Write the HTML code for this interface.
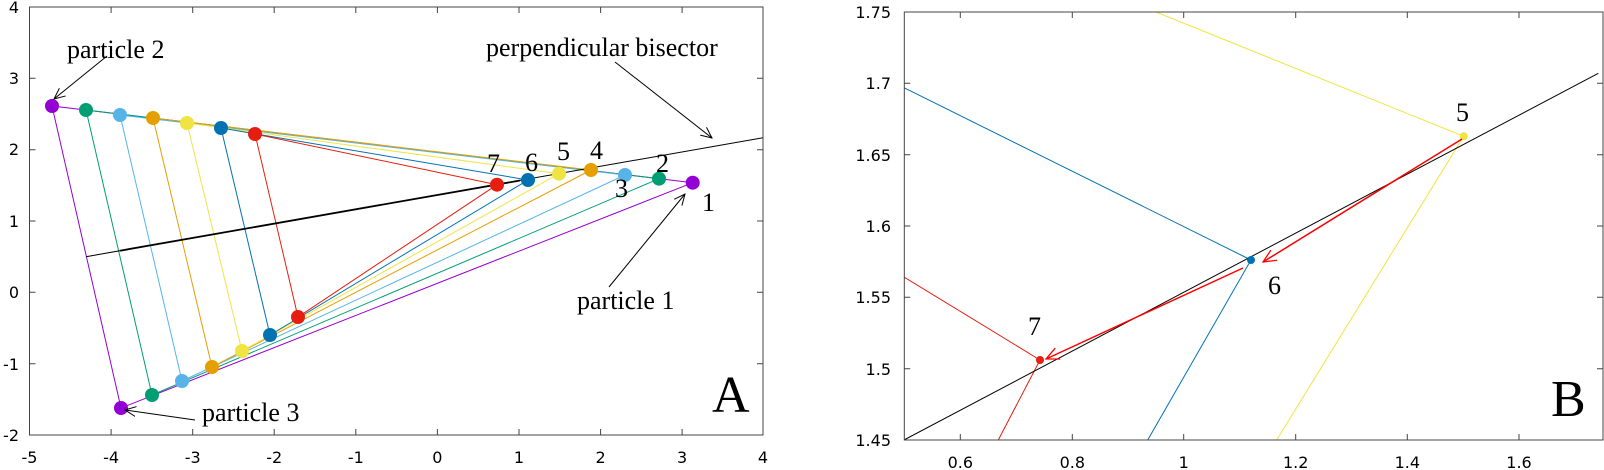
<!DOCTYPE html>
<html><head><meta charset="utf-8"><style>
html,body{margin:0;padding:0;background:#fff;}
svg{display:block;}
.t{font-family:"DejaVu Sans",sans-serif;font-size:16px;fill:#000;}
.s{font-family:"Liberation Serif",serif;fill:#000;}
</style></head><body>
<svg width="1604" height="470" viewBox="0 0 1604 470" xmlns="http://www.w3.org/2000/svg">
<defs>
<marker id="ah" viewBox="0 0 12 12" refX="11" refY="6" markerWidth="12" markerHeight="12" markerUnits="userSpaceOnUse" orient="auto"><path d="M0,1 L11,6 L0,11" fill="none" stroke="#000" stroke-width="1"/></marker>
<marker id="ar" viewBox="0 0 14 14" refX="13" refY="7" markerWidth="14" markerHeight="14" markerUnits="userSpaceOnUse" orient="auto"><path d="M0,1 L13,7 L0,13" fill="none" stroke="#f00" stroke-width="1.3"/></marker>
</defs>
<!-- Panel A -->
<g fill="none" stroke-width="1">
<polygon points="52,106 121,408 692.7,182.7" stroke="#9400d3"/>
<polygon points="86,110 152,395 659,178.7" stroke="#009e73"/>
<polygon points="120,115 182,381 625,175" stroke="#56b4e9"/>
<polygon points="153,118 212,367 591,170" stroke="#e69f00"/>
<polygon points="187,123 242,351 559,173.7" stroke="#f0e442"/>
<polygon points="221,128 270,335 528,180" stroke="#0072b2"/>
<polygon points="255,134 298,317 497,184.7" stroke="#e51e10"/>
</g>
<line x1="86" y1="256.7" x2="763" y2="137.7" stroke="#000" stroke-width="1"/>
<line x1="120" y1="250.7" x2="520" y2="180.5" stroke="#000" stroke-width="1.8"/>
<g stroke="none">
<circle cx="52" cy="106" r="7" fill="#9400d3"/><circle cx="121" cy="408" r="7" fill="#9400d3"/><circle cx="692.7" cy="182.7" r="7" fill="#9400d3"/>
<circle cx="86" cy="110" r="7" fill="#009e73"/><circle cx="152" cy="395" r="7" fill="#009e73"/><circle cx="659" cy="178.7" r="7" fill="#009e73"/>
<circle cx="120" cy="115" r="7" fill="#56b4e9"/><circle cx="182" cy="381" r="7" fill="#56b4e9"/><circle cx="625" cy="175" r="7" fill="#56b4e9"/>
<circle cx="153" cy="118" r="7" fill="#e69f00"/><circle cx="212" cy="367" r="7" fill="#e69f00"/><circle cx="591" cy="170" r="7" fill="#e69f00"/>
<circle cx="187" cy="123" r="7" fill="#f0e442"/><circle cx="242" cy="351" r="7" fill="#f0e442"/><circle cx="559" cy="173.7" r="7" fill="#f0e442"/>
<circle cx="221" cy="128" r="7" fill="#0072b2"/><circle cx="270" cy="335" r="7" fill="#0072b2"/><circle cx="528" cy="180" r="7" fill="#0072b2"/>
<circle cx="255" cy="134" r="7" fill="#e51e10"/><circle cx="298" cy="317" r="7" fill="#e51e10"/><circle cx="497" cy="184.7" r="7" fill="#e51e10"/>
</g>
<g class="s" font-size="26">
<text x="487" y="172">7</text><text x="525" y="171">6</text><text x="557" y="160">5</text><text x="590" y="159">4</text>
<text x="656" y="172">2</text><text x="615" y="197">3</text><text x="702" y="211">1</text>
<text x="67" y="58">particle 2</text>
<text x="486" y="56">perpendicular bisector</text>
<text x="577" y="309">particle 1</text>
<text x="202" y="421">particle 3</text>
<text x="712" y="412" font-size="52">A</text>
</g>
<g stroke="#000" stroke-width="1" fill="none">
<line x1="107" y1="56" x2="54" y2="99" marker-end="url(#ah)"/>
<line x1="615" y1="62" x2="712" y2="138" marker-end="url(#ah)"/>
<line x1="609" y1="287" x2="685" y2="194" marker-end="url(#ah)"/>
<line x1="195" y1="420" x2="125" y2="410" marker-end="url(#ah)"/>
</g>
<!-- Axes A -->
<rect x="29.5" y="7" width="733.5" height="428" fill="none" stroke="#444" stroke-width="1"/>
<g stroke="#444" stroke-width="1">
<path d="M111.1,435v-6M111.1,7v6M192.7,435v-6M192.7,7v6M274.2,435v-6M274.2,7v6M355.8,435v-6M355.8,7v6M437.4,435v-6M437.4,7v6M519,435v-6M519,7v6M600.6,435v-6M600.6,7v6M682.1,435v-6M682.1,7v6"/>
<path d="M29.5,78.3h6M763,78.3h-6M29.5,149.7h6M763,149.7h-6M29.5,221h6M763,221h-6M29.5,292.3h6M763,292.3h-6M29.5,363.7h6M763,363.7h-6"/>
</g>
<g class="t" text-anchor="middle">
<text x="29.5" y="463">-5</text><text x="111.1" y="463">-4</text><text x="192.7" y="463">-3</text><text x="274.2" y="463">-2</text><text x="355.8" y="463">-1</text><text x="437.4" y="463">0</text><text x="519" y="463">1</text><text x="600.6" y="463">2</text><text x="682.1" y="463">3</text><text x="763" y="463">4</text>
</g>
<g class="t" text-anchor="end">
<text x="19" y="13">4</text><text x="19" y="84">3</text><text x="19" y="155">2</text><text x="19" y="227">1</text><text x="19" y="298">0</text><text x="19" y="370">-1</text><text x="19" y="441">-2</text>
</g>
<!-- Panel B -->
<svg x="904.3" y="12" width="698.7" height="428" viewBox="904.3 12 698.7 428" overflow="hidden">
<polyline points="1156,12 1463.7,136.3 1276.7,440" fill="none" stroke="#f0e442" stroke-width="1"/>
<polyline points="904,87.7 1251,260 1147.7,440" fill="none" stroke="#0072b2" stroke-width="1"/>
<polyline points="904,277 1040,360 998.3,440" fill="none" stroke="#e51e10" stroke-width="1"/>
<line x1="904" y1="440" x2="1598.3" y2="73.3" stroke="#000" stroke-width="1"/>
<circle cx="1463.7" cy="136.3" r="4" fill="#f0e442"/>
<circle cx="1251" cy="260" r="4" fill="#0072b2"/>
<circle cx="1040" cy="360" r="4" fill="#e51e10"/>
<line x1="1462" y1="139" x2="1263" y2="262" stroke="#f00" stroke-width="1.5" marker-end="url(#ar)"/>
<line x1="1243" y1="268" x2="1046" y2="359" stroke="#f00" stroke-width="1.5" marker-end="url(#ar)"/>
</svg>
<g class="s" font-size="26">
<text x="1456" y="121">5</text><text x="1268" y="294">6</text><text x="1028" y="335">7</text>
<text x="1551" y="416" font-size="52">B</text>
</g>
<rect x="904.3" y="12" width="698.7" height="428" fill="none" stroke="#444" stroke-width="1"/>
<g stroke="#444" stroke-width="1">
<path d="M960.3,440v-6M960.3,12v6M1072.3,440v-6M1072.3,12v6M1183.7,440v-6M1183.7,12v6M1295.7,440v-6M1295.7,12v6M1407.3,440v-6M1407.3,12v6M1519,440v-6M1519,12v6"/>
<path d="M904.3,83.3h6M1603,83.3h-6M904.3,154.7h6M1603,154.7h-6M904.3,226h6M1603,226h-6M904.3,297.3h6M1603,297.3h-6M904.3,368.7h6M1603,368.7h-6"/>
</g>
<g class="t" text-anchor="middle">
<text x="960.3" y="468">0.6</text><text x="1072.3" y="468">0.8</text><text x="1183.7" y="468">1</text><text x="1295.7" y="468">1.2</text><text x="1407.3" y="468">1.4</text><text x="1519" y="468">1.6</text>
</g>
<g class="t" text-anchor="end">
<text x="891" y="18">1.75</text><text x="891" y="89">1.7</text><text x="891" y="161">1.65</text><text x="891" y="232">1.6</text><text x="891" y="303">1.55</text><text x="891" y="375">1.5</text><text x="891" y="446">1.45</text>
</g>
</svg>
</body></html>
